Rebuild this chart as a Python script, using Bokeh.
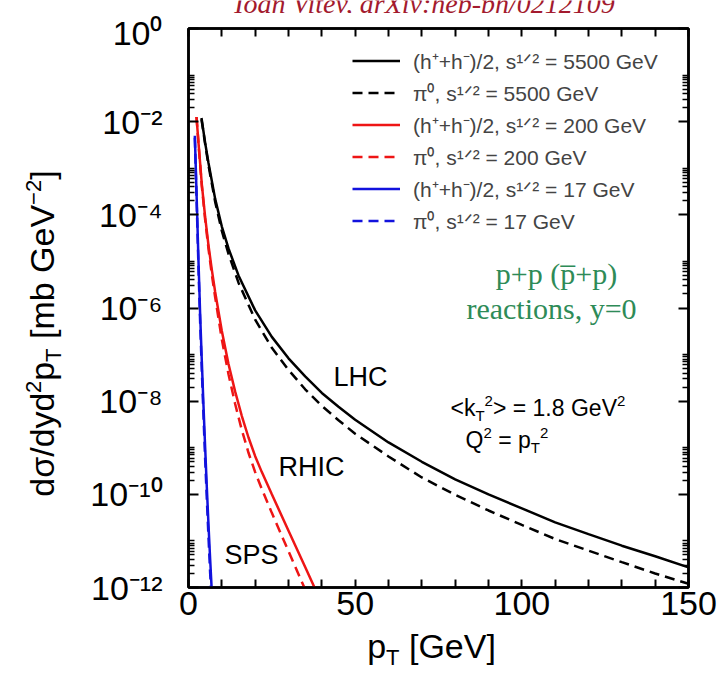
import math
from bokeh.plotting import figure
from bokeh.layouts import row, column
from bokeh.models import (Range1d, FixedTicker, LinearAxis, LogAxis, Label, Legend,
                          LegendItem, CustomJSTickFormatter)
from bokeh.embed import file_html
from bokeh.resources import INLINE

# ---------------- data ----------------
# LHC, sqrt(s) = 5500 GeV
pt_lhc = [3.9, 5, 6, 8, 10, 12, 15, 20, 25, 30, 35, 40, 45, 50, 60, 70, 80, 90, 100, 110, 120, 130, 140, 150]
h_lhc = [1.2e-2, 3.5e-3, 1.3e-3, 2.2e-4, 5.6e-5, 1.9e-5, 5.0e-6, 8.9e-7, 2.4e-7, 8.3e-8, 3.4e-8, 1.5e-8,
         7.6e-9, 4.0e-9, 1.3e-9, 5.0e-10, 2.1e-10, 1.0e-10, 5.0e-11, 2.5e-11, 1.4e-11, 7.9e-12, 4.7e-12, 2.7e-12]
pi_lhc = [1.12e-2, 3.3e-3, 1.15e-3, 1.9e-4, 4.5e-5, 1.45e-5, 3.5e-6, 5.6e-7, 1.4e-7, 4.7e-8, 1.8e-8, 7.9e-9,
          3.9e-9, 2.0e-9, 6.5e-10, 2.3e-10, 9.8e-11, 4.5e-11, 2.2e-11, 1.1e-11, 6.2e-12, 3.5e-12, 2.0e-12, 1.2e-12]

# RHIC, sqrt(s) = 200 GeV
pt_rhic = [2.4, 3, 4, 5, 6, 7, 8, 10, 12, 14, 16, 18, 20, 22, 25, 30, 35, 38]
h_rhic = [1.26e-2, 3.5e-3, 4.5e-4, 8.9e-5, 2.2e-5, 6.6e-6, 2.2e-6, 3.2e-7, 6.3e-8, 1.6e-8, 4.8e-9,
          1.66e-9, 6.6e-10, 3.0e-10, 1.0e-10, 1.66e-11, 2.75e-12, 9.3e-13]
pt_rhic_pi = [2.4, 3, 4, 5, 6, 7, 8, 10, 12, 14, 16, 18, 20, 22, 25, 30, 35]
pi_rhic = [1.26e-2, 3.4e-3, 4.1e-4, 7.8e-5, 1.86e-5, 5.2e-6, 1.7e-6, 2.1e-7, 3.8e-8, 8.7e-9, 2.4e-9,
           7.8e-10, 3.0e-10, 1.3e-10, 4.0e-11, 6.0e-12, 9.1e-13]

# SPS, sqrt(s) = 17 GeV
pt_sps = [1.9, 2.5, 3, 3.5, 4, 4.5, 5, 5.5, 6, 6.5, 7]
h_sps = [5.0e-3, 1.8e-4, 1.0e-5, 7.1e-7, 7.1e-8, 7.9e-9, 1.0e-9, 1.4e-10, 2.2e-11, 4.0e-12, 7.9e-13]
pi_sps = [4.5e-3, 1.4e-4, 7.1e-6, 4.8e-7, 4.5e-8, 4.8e-9, 5.6e-10, 7.9e-11, 1.2e-11, 2.0e-12, 4.0e-13]

legend_labels = [
    "(h\u207a+h\u207b)/2, s\u00b9\u141f\u00b2 = 5500 GeV",
    "\u03c0\u2070, s\u00b9\u141f\u00b2 = 5500 GeV",
    "(h\u207a+h\u207b)/2, s\u00b9\u141f\u00b2 = 200 GeV",
    "\u03c0\u2070, s\u00b9\u141f\u00b2 = 200 GeV",
    "(h\u207a+h\u207b)/2, s\u00b9\u141f\u00b2 = 17 GeV",
    "\u03c0\u2070, s\u00b9\u141f\u00b2 = 17 GeV",
]

x_ticks = [0, 10, 20, 30, 40, 50, 60, 70, 80, 90, 100, 110, 120, 130, 140, 150]
x_label_ticks = [0, 50, 100, 150]
x_tick_labels = ["0", "50", "100", "150"]
y_major_ticks = [1e-12, 1e-10, 1e-8, 1e-6, 1e-4, 1e-2, 1.0]
y_tick_labels = ["10\u207b\u00b9\u00b2", "10\u207b\u00b9\u2070", "10\u207b\u2078", "10\u207b\u2076",
                 "10\u207b\u2074", "10\u207b\u00b2", "10\u2070"]
y_minor_ticks = []
for e in [-1, -3, -5, -7, -9, -11]:
    y_minor_ticks.append(10.0 ** e)
    for m in range(2, 10):
        y_minor_ticks.append(m * 10.0 ** (e - 1))

# ---------------- layout geometry (page pixels) ----------------
W_TOT, H_TOT = 717, 673
TOP_H = 13          # strip holding the (cut) citation line
LEFT_W = 70         # strip holding the rotated y-axis title
BOT_H = 40          # strip holding the x-axis title
MAIN_W = W_TOT - LEFT_W
MAIN_H = H_TOT - TOP_H - BOT_H
FRAME_L, FRAME_R, FRAME_T, FRAME_B = 188, 688, 28, 587
BASE_FIX = 0.36     # baseline correction for "alphabetic" labels (fraction of font size)

# ---------------- main figure ----------------
p = figure(width=MAIN_W, height=MAIN_H, output_backend="svg", toolbar_location=None, title=None,
           x_range=Range1d(0, 150), y_range=Range1d(1e-12, 1.0), y_axis_type="log",
           min_border_left=FRAME_L - LEFT_W, min_border_right=W_TOT - FRAME_R,
           min_border_top=FRAME_T - TOP_H, min_border_bottom=(H_TOT - BOT_H) - FRAME_B,
           frame_align=False)
p.xgrid.visible = False
p.ygrid.visible = False
p.outline_line_color = "black"
p.outline_line_width = 2.5
p.background_fill_color = "white"
p.border_fill_color = "white"

RED = "#ee1515"
BLUE = "#1212dd"
DASH = "10 6"
LW = 2.5

r1 = p.line(pt_lhc, h_lhc, line_color="black", line_width=LW)
r2 = p.line(pt_lhc, pi_lhc, line_color="black", line_width=LW, line_dash=DASH)
r3 = p.line(pt_rhic, h_rhic, line_color=RED, line_width=LW)
r4 = p.line(pt_rhic_pi, pi_rhic, line_color=RED, line_width=LW, line_dash=DASH)
r5 = p.line(pt_sps, h_sps, line_color=BLUE, line_width=LW)
r6 = p.line(pt_sps, pi_sps, line_color=BLUE, line_width=LW, line_dash=DASH)

legend = Legend(items=[LegendItem(label=lab, renderers=[r]) for lab, r in
                       zip(legend_labels, [r1, r2, r3, r4, r5, r6])],
                location=(164, 352), padding=0, margin=0, spacing=3,
                glyph_width=48, glyph_height=29, label_height=29, label_standoff=13,
                label_text_font_size="21px", label_text_font="Liberation Sans",
                border_line_alpha=0, background_fill_alpha=0)
p.add_layout(legend)

# ---------------- axes ----------------
x_ticker = FixedTicker(ticks=x_ticks)
y_ticker = FixedTicker(ticks=y_major_ticks, minor_ticks=y_minor_ticks)
x_fmt = CustomJSTickFormatter(args=dict(tks=x_label_ticks, lbls=x_tick_labels), code="""
for (let i = 0; i < tks.length; i++) { if (Math.abs(tick - tks[i]) < 1e-6) return lbls[i]; }
return "";
""")
y_fmt = CustomJSTickFormatter(args=dict(tks=y_major_ticks, lbls=y_tick_labels), code="""
for (let i = 0; i < tks.length; i++) {
  if (Math.abs(Math.log10(tick) - Math.log10(tks[i])) < 1e-6) return lbls[i];
}
return "";
""")
blank = CustomJSTickFormatter(code="return '';")

def style_axis(ax):
    ax.axis_line_width = 2.5
    ax.axis_line_color = "black"
    ax.major_tick_in = 10
    ax.major_tick_out = 0
    ax.minor_tick_in = 6
    ax.minor_tick_out = 0
    ax.major_tick_line_width = 2
    ax.minor_tick_line_width = 1.5
    ax.major_tick_line_color = "black"
    ax.minor_tick_line_color = "black"
    ax.major_label_text_font = "Liberation Sans"
    ax.major_label_text_font_size = "34px"
    ax.major_label_text_color = "black"

xa = p.xaxis[0]
xa.ticker = x_ticker
xa.formatter = x_fmt
xa.major_label_standoff = 4
style_axis(xa)
xa.major_tick_in = 8

ya = p.yaxis[0]
ya.ticker = y_ticker
ya.formatter = y_fmt
ya.major_label_standoff = 26
style_axis(ya)

top = LinearAxis(ticker=x_ticker, formatter=blank)
style_axis(top)
top.major_tick_in = 8
top.major_label_text_font_size = "0px"
top.major_label_standoff = 0
p.add_layout(top, "above")

right = LogAxis(ticker=y_ticker, formatter=blank)
style_axis(right)
right.major_label_text_font_size = "0px"
right.major_label_standoff = 0
p.add_layout(right, "right")

# ---------------- helper strips for texts outside the frame ----------------
def strip(w, h):
    f = figure(width=w, height=h, output_backend="svg", toolbar_location=None, title=None,
               x_range=Range1d(0, w), y_range=Range1d(0, h), x_axis_location=None,
               y_axis_location=None, min_border=0, frame_align=False)
    f.xgrid.visible = False
    f.ygrid.visible = False
    f.outline_line_color = None
    f.background_fill_color = "white"
    f.border_fill_color = "white"
    return f

top_fig = strip(W_TOT, TOP_H)
left_fig = strip(LEFT_W, MAIN_H)
bot_fig = strip(W_TOT, BOT_H)

# ---------------- text helpers ----------------
CW = {' ': 278, '<': 584, '>': 584, '=': 584, '+': 584, '\u2212': 584, '-': 333, '.': 278, ',': 278,
      '/': 278, '(': 333, ')': 333, '[': 278, ']': 278, 'k': 500, 'T': 611, 'G': 778, 'e': 556,
      'V': 667, 'Q': 778, 'p': 556, 'm': 833, 'b': 556, 'd': 556, '\u03c3': 600, 'y': 500}

def tw(t, size):
    return sum(CW.get(c, 556) for c in t) / 1000.0 * size

def add_runs(fig, anchor, runs, x0, y0, rotated=False, font="Liberation Sans", color="black"):
    adv = 0.0
    for t, size, shift in runs:
        lead = len(t) - len(t.lstrip(' '))
        adv += lead * 0.278 * size
        s = t.strip(' ')
        fix = BASE_FIX * size
        if rotated:
            xo, yo = x0 - shift - fix, y0 + adv
        else:
            xo, yo = x0 + adv, y0 + shift + fix
        fig.add_layout(Label(x=anchor[0], y=anchor[1], x_offset=xo, y_offset=yo, text=s,
                             text_font=font, text_font_size=f"{size}px", text_color=color,
                             text_align="left", text_baseline="alphabetic",
                             angle=(math.pi / 2 if rotated else 0)))
        adv += tw(s, size)
    return adv

def total(runs):
    return sum(tw(t, s) for t, s, _ in runs)

# y axis title (rotated, in left strip; strip y = (H_TOT - BOT_H) - page y)
ylab = [("d\u03c3/dyd", 34, 0), ("2", 22, 13), ("p", 34, 0), ("T", 22, -7),
        (" [mb GeV", 34, 0), ("\u22122", 22, 13), ("]", 34, 0)]
L = total(ylab)
add_runs(left_fig, (0, 0), ylab, 54, (H_TOT - BOT_H) - (333 + L / 2), rotated=True)

# x axis title (in bottom strip; strip y = H_TOT - page y)
xlab = [("p", 34, 0), ("T", 22, -7), (" [GeV]", 34, 0)]
Lx = total(xlab)
add_runs(bot_fig, (0, 0), xlab, 431 - Lx / 2, H_TOT - 658)

# citation line, cut by the top edge of the page
top_fig.add_layout(Label(x=424, y=0, y_offset=BASE_FIX * 28, text="Ioan Vitev, arXiv:hep-ph/0212109",
                         text_font="Liberation Serif", text_font_style="italic",
                         text_font_size="28px", text_color="#a31a2e",
                         text_align="center", text_baseline="alphabetic"))

# texts inside the frame (offsets from the frame's lower-left corner)
corner = (0, 1e-12)
add_runs(p, corner, [("<k", 23, 0), ("T", 15, -4), ("2", 15, 10), ("> = 1.8 GeV", 23, 0), ("2", 15, 10)],
         450 - FRAME_L, FRAME_B - 416)
add_runs(p, corner, [("Q", 23, 0), ("2", 15, 10), (" = p", 23, 0), ("T", 15, -4), ("2", 15, 10)],
         465 - FRAME_L, FRAME_B - 448)

def center_label(text, px, py, size, font="Liberation Sans", color="black"):
    p.add_layout(Label(x=0, y=1e-12, x_offset=px - FRAME_L, y_offset=FRAME_B - py, text=text,
                       text_font=font, text_font_size=f"{size}px", text_color=color,
                       text_align="center", text_baseline="middle"))

center_label("LHC", 360, 376, 27)
center_label("RHIC", 311, 466, 27)
center_label("SPS", 251, 554, 27)

GREEN = "#2e8b57"
center_label("p+p (p\u0305+p)", 556, 273, 30, font="Liberation Serif", color=GREEN)
center_label("reactions, y=0", 551, 308, 30, font="Liberation Serif", color=GREEN)

layout = column(top_fig, row(left_fig, p), bot_fig)
open("out.html", "w").write(file_html(layout, INLINE))
